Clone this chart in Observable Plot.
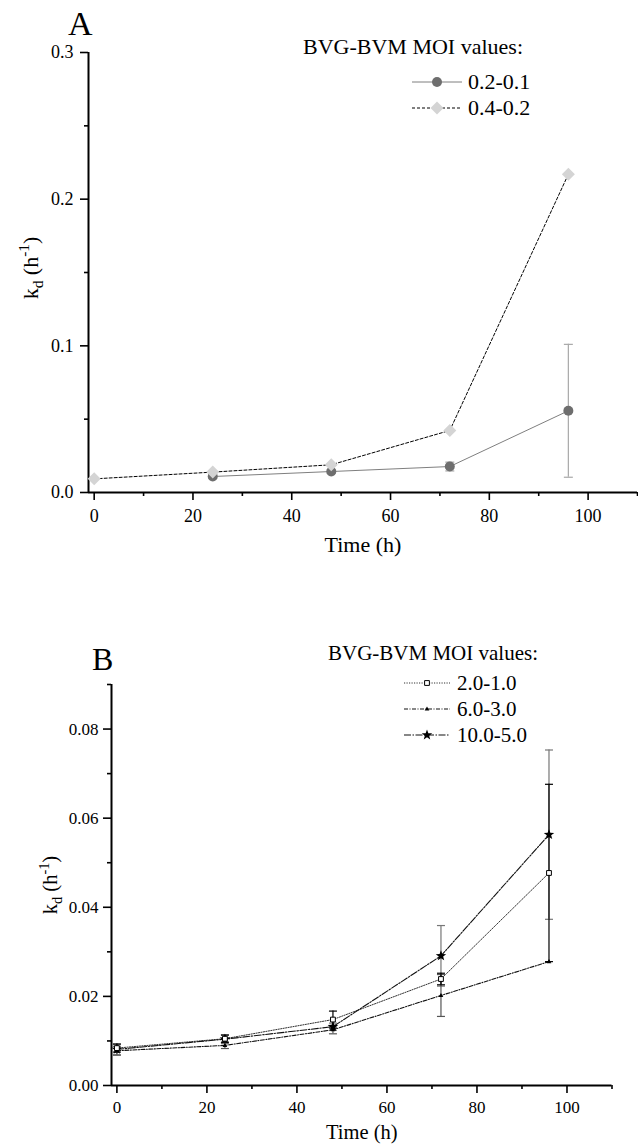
<!DOCTYPE html>
<html><head><meta charset="utf-8">
<script src="https://cdn.jsdelivr.net/npm/d3@7"></script>
<script src="https://cdn.jsdelivr.net/npm/@observablehq/plot@0.6"></script>
<style>
body{margin:0;background:#fff;}
#wrap{position:relative;width:638px;height:1148px;background:#fff;}
#wrap svg{display:block;}
#wrap svg text, #wrap svg tspan{font-family:"Liberation Serif","Times New Roman",serif !important;}
</style></head><body><div id="wrap"></div>
<script>
// ---------- Data (panel A) ----------
const legendTitle = "BVG-BVM MOI values:";
const xLabel = "Time (h)";
const xMajor = [0, 20, 40, 60, 80, 100];
const xMinor = [10, 30, 50, 70, 90, 110];

const seriesA = ["0.2-0.1", "0.4-0.2"];
const timesA1 = [24, 48, 72, 96];
const kdA1 = [0.0109, 0.0143, 0.0177, 0.0557];
const errA1 = [0.0008, 0.0010, 0.0030, 0.0453];
const timesA2 = [0, 24, 48, 72, 96];
const kdA2 = [0.0093, 0.0139, 0.0189, 0.0423, 0.217];
const yMajorA = [0, 0.1, 0.2, 0.3];
const yMinorA = [0.05, 0.15, 0.25];

// ---------- Data (panel B) ----------
const seriesB = ["2.0-1.0", "6.0-3.0", "10.0-5.0"];
const timesB = [0, 24, 48, 72, 96];
const kdB1 = [0.0084, 0.0105, 0.0148, 0.0239, 0.0477];
const errB1 = [0.0009, 0.0008, 0.0019, 0.0013, 0.0199];
const kdB2 = [0.0078, 0.0090, 0.0125, 0.0202, 0.0278];
const errB2 = [0.0010, 0.0007, 0.0009, 0.0047, 0.0];
const kdB3 = [0.0081, 0.0104, 0.0132, 0.0291, 0.0563];
const errB3 = [0.0012, 0.0010, 0.0008, 0.0068, 0.0190];
const yMajorB = [0, 0.02, 0.04, 0.06, 0.08];
const yMinorB = [0.01, 0.03, 0.05, 0.07, 0.09];

// ---------- Symbols ----------
const rOf = s => Math.sqrt(s / Math.PI);
const diamondSym = {draw(c, s){const h = rOf(s); c.moveTo(0,-h); c.lineTo(h,0); c.lineTo(0,h); c.lineTo(-h,0); c.closePath();}};
const capSym = {draw(c, s){const w = rOf(s); c.moveTo(-w,0); c.lineTo(w,0);}};
const squareSym = {draw(c, s){const h = rOf(s); c.moveTo(-h,-h); c.lineTo(h,-h); c.lineTo(h,h); c.lineTo(-h,h); c.closePath();}};
const triSym = {draw(c, s){const h = rOf(s); c.moveTo(0,-h); c.lineTo(h*0.9,h*0.6); c.lineTo(-h*0.9,h*0.6); c.closePath();}};
const starSym = {draw(c, s){const R = rOf(s), ri = R*0.42; for(let i=0;i<10;i++){const a = -Math.PI/2 + i*Math.PI/5; const rr = i%2 ? ri : R; const px = rr*Math.cos(a), py = rr*Math.sin(a); i ? c.lineTo(px,py) : c.moveTo(px,py);} c.closePath();}};

const FONT = "Liberation Serif, Times New Roman, serif";
const mk = (xs, ys, es) => xs.map((x, i) => ({x, y: ys[i], e: es ? es[i] : 0}));

function errMarks(data, color, capR, w) {
  const d = data.filter(v => v.e > 0);
  return [
    Plot.ruleX(d, {x: "x", y1: v => v.y - v.e, y2: v => v.y + v.e, stroke: color, strokeWidth: w}),
    Plot.dot(d, {x: "x", y: v => v.y - v.e, symbol: capSym, r: capR, stroke: color, strokeWidth: w, fill: "none"}),
    Plot.dot(d, {x: "x", y: v => v.y + v.e, symbol: capSym, r: capR, stroke: color, strokeWidth: w, fill: "none"})
  ];
}

function axes(xDom, yMaj, yMin, yFmt, fs, xPad, yPad) {
  return [
    Plot.axisX({ticks: xMajor, tickSize: 8, tickPadding: xPad, fontSize: fs, strokeWidth: 1.6, label: null, tickFormat: d => String(d)}),
    Plot.axisX({ticks: xMinor, tickSize: 4, strokeWidth: 1.6, label: null, tickFormat: () => ""}),
    Plot.axisY({ticks: yMaj, tickSize: 8, tickPadding: yPad, fontSize: fs, strokeWidth: 1.6, label: null, tickFormat: d3.format(yFmt)}),
    Plot.axisY({ticks: yMin, tickSize: 4, strokeWidth: 1.6, label: null, tickFormat: () => ""}),
    Plot.ruleX([xDom[0]], {strokeWidth: 2, stroke: "black"}),
    Plot.ruleY([0], {strokeWidth: 2, stroke: "black"})
  ];
}

function yLabel(svg, cx, cy, fs) {
  const t = d3.select(svg).append("text")
    .attr("transform", `translate(${cx},${cy}) rotate(-90)`)
    .attr("text-anchor", "middle").attr("font-size", fs).attr("fill", "black")
    .attr("dy", fs * 0.35);
  t.append("tspan").text("k");
  t.append("tspan").attr("font-size", fs * 0.7).attr("dy", fs * 0.25).text("d");
  t.append("tspan").attr("dy", -fs * 0.25).text(" (h");
  t.append("tspan").attr("font-size", fs * 0.7).attr("dy", -fs * 0.4).text("-1");
  t.append("tspan").attr("dy", fs * 0.4).text(")");
}

function addText(svg, x, y, fs, str) {
  d3.select(svg).append("text").attr("x", x).attr("y", y).attr("font-size", fs)
    .attr("fill", "black").attr("text-anchor", "start").text(str);
}

function legendRow(svg, x1, x2, y, line, sym, textX, fs, label) {
  const g = d3.select(svg).append("g");
  g.append("line").attr("x1", x1).attr("x2", x2).attr("y1", y).attr("y2", y)
    .attr("stroke", line.stroke).attr("stroke-width", line.width).attr("stroke-dasharray", line.dash || null);
  g.append("path").attr("transform", `translate(${(x1 + x2) / 2},${y})`)
    .attr("d", d3.symbol(sym.symbol, Math.PI * sym.r * sym.r)())
    .attr("fill", sym.fill).attr("stroke", sym.stroke || "none").attr("stroke-width", sym.sw || 1);
  g.append("text").attr("x", textX).attr("y", y + fs * 0.33).attr("font-size", fs)
    .attr("fill", "black").attr("text-anchor", "start").text(label);
}

const wrap = document.getElementById("wrap");

// ---------- Panel A ----------
const xDomA = [-1.15, 110];
const dA1 = mk(timesA1, kdA1, errA1);
const dA2 = mk(timesA2, kdA2);
const lA1 = {stroke: "#7f7f7f", width: 1};
const lA2 = {stroke: "black", width: 1, dash: "3,2"};
const plotA = Plot.plot({
  width: 638, height: 580,
  marginTop: 52, marginBottom: 88, marginLeft: 88, marginRight: 1,
  x: {domain: xDomA},
  y: {domain: [0, 0.3]},
  style: {fontFamily: FONT, color: "black", background: "white", overflow: "visible"},
  marks: [
    ...axes(xDomA, yMajorA, yMinorA, ".1f", 18, 9, 7),
    Plot.line(dA2, {x: "x", y: "y", stroke: lA2.stroke, strokeWidth: lA2.width, strokeDasharray: lA2.dash}),
    Plot.line(dA1, {x: "x", y: "y", stroke: lA1.stroke, strokeWidth: lA1.width}),
    ...errMarks(dA1, "#a8a8a8", 4.5, 1.2),
    Plot.dot(dA1, {x: "x", y: "y", r: 5, fill: "#6e6e6e"}),
    Plot.dot(dA2, {x: "x", y: "y", r: 6.5, symbol: diamondSym, fill: "#d4d4d4"}),
    Plot.text([xLabel], {text: d => d, frameAnchor: "bottom", dy: 59, fontSize: 22})
  ]
});
wrap.appendChild(plotA);
yLabel(plotA, 30, 268, 22);
addText(plotA, 68, 35, 34, "A");
addText(plotA, 303, 47 + 22 * 0.33, 22, legendTitle);
legendRow(plotA, 412, 462, 82, lA1, {symbol: d3.symbolCircle, r: 5, fill: "#6e6e6e"}, 468, 22, seriesA[0]);
legendRow(plotA, 412, 462, 108, lA2, {symbol: diamondSym, r: 6.5, fill: "#d4d4d4"}, 468, 22, seriesA[1]);

// ---------- Panel B ----------
const xDomB = [-1.2, 110];
const dB1 = mk(timesB, kdB1, errB1);
const dB2 = mk(timesB, kdB2, errB2);
const dB3 = mk(timesB, kdB3, errB3);
const lB1 = {stroke: "#333", width: 1, dash: "1.2,1.3"};
const lB2 = {stroke: "#111", width: 1.1, dash: "4,1.5,1,1.5"};
const lB3 = {stroke: "#111", width: 1.1, dash: "7,1.5,1.5,1.5"};
const plotB = Plot.plot({
  width: 638, height: 568,
  marginTop: 104, marginBottom: 63, marginLeft: 111, marginRight: 26.5,
  x: {domain: xDomB},
  y: {domain: [0, 0.09]},
  style: {fontFamily: FONT, color: "black", background: "white", overflow: "visible"},
  marks: [
    ...axes(xDomB, yMajorB, yMinorB, ".2f", 17, 7, 5),
    Plot.line(dB1, {x: "x", y: "y", stroke: lB1.stroke, strokeWidth: lB1.width, strokeDasharray: lB1.dash}),
    Plot.line(dB2, {x: "x", y: "y", stroke: lB2.stroke, strokeWidth: lB2.width, strokeDasharray: lB2.dash}),
    Plot.line(dB3, {x: "x", y: "y", stroke: lB3.stroke, strokeWidth: lB3.width, strokeDasharray: lB3.dash}),
    ...errMarks(dB3, "#777", 4, 1.2),
    ...errMarks(dB2, "#555", 4, 1.2),
    ...errMarks(dB1, "black", 4, 1.2),
    Plot.dot(dB2, {x: "x", y: "y", r: 2.6, symbol: triSym, fill: "black"}),
    Plot.dot(dB3, {x: "x", y: "y", r: 5.5, symbol: starSym, fill: "black"}),
    Plot.dot(dB1, {x: "x", y: "y", r: 2.4, symbol: squareSym, fill: "white", stroke: "black", strokeWidth: 1}),
    Plot.text([xLabel], {text: d => d, frameAnchor: "bottom", dy: 53, fontSize: 20.5})
  ]
});
wrap.appendChild(plotB);
yLabel(plotB, 50, 305, 20.5);
addText(plotB, 92, 90, 32, "B");
addText(plotB, 328, 73 + 21 * 0.33, 21, legendTitle);
legendRow(plotB, 404, 450, 103, lB1, {symbol: squareSym, r: 2.4, fill: "white", stroke: "black"}, 457, 21, seriesB[0]);
legendRow(plotB, 404, 450, 129, lB2, {symbol: triSym, r: 2.6, fill: "black"}, 457, 21, seriesB[1]);
legendRow(plotB, 404, 450, 155, lB3, {symbol: starSym, r: 5.5, fill: "black"}, 457, 21, seriesB[2]);
</script></body></html>
